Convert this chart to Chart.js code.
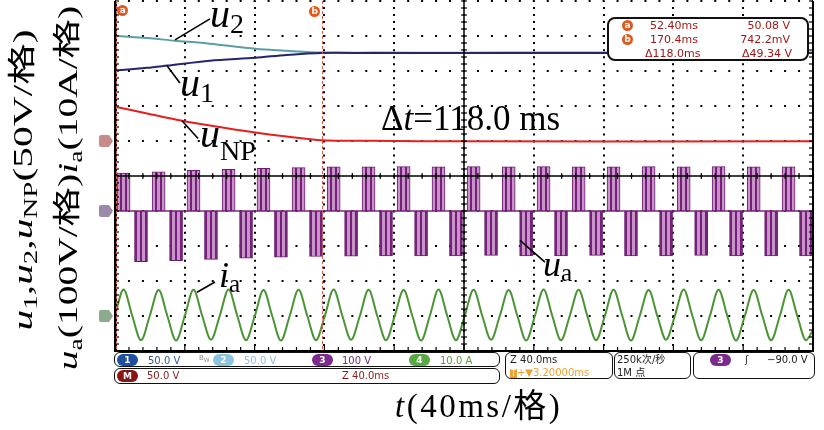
<!DOCTYPE html>
<html><head><meta charset="utf-8">
<script src="https://cdn.jsdelivr.net/npm/chart.js@4.4.0/dist/chart.umd.min.js"></script>
<style>
html,body{margin:0;padding:0;background:#fff;}
#wrap{position:relative;width:824px;height:430px;overflow:hidden;background:#fff;}
canvas{position:absolute;left:0;top:0;}
.lab{position:absolute;font-family:'Liberation Serif','Noto Sans CJK SC',serif;line-height:1;white-space:nowrap;color:#000;}
.lab i{font-style:italic;}
.s{font-size:0.7em;position:relative;top:0.25em;font-style:normal;}
.sb{position:absolute;font-family:'DejaVu Sans','Noto Sans CJK SC',sans-serif;font-size:10px;line-height:1;white-space:nowrap;}
.box{position:absolute;border:1.5px solid #111;border-radius:6px;box-sizing:border-box;background:#fff;}
.ov{position:absolute;border-radius:6px;color:#fff;font:bold 9px 'DejaVu Sans',sans-serif;text-align:center;line-height:12px;height:12px;width:21px;}
.ib{position:absolute;font-family:'DejaVu Sans',sans-serif;font-size:11px;line-height:1;white-space:nowrap;color:#a01818;}
.oc{position:absolute;width:11px;height:11px;border-radius:50%;background:#e2571e;color:#fff;font:bold 9px 'DejaVu Sans',sans-serif;text-align:center;line-height:11px;}
</style></head>
<body><div id="wrap"><canvas id="c" width="824" height="430"></canvas>

<!-- axis titles -->
<div class="lab" style="font-size:28px;left:23px;top:180px;transform:translate(-50%,-50%) rotate(-90deg) scaleX(1.48);"><i>u</i><span class="s">1</span>,<i>u</i><span class="s">2</span>,<i>u</i><span class="s">NP</span>(50V/格)</div>
<div class="lab" style="font-size:28px;left:68px;top:188px;transform:translate(-50%,-50%) rotate(-90deg) scaleX(1.41);"><i>u</i><span class="s">a</span>(100V/格)<i>i</i><span class="s">a</span>(10A/格)</div>
<div class="lab" style="font-size:33px;letter-spacing:2.5px;left:395px;top:390px;"><i>t</i>(40ms/格)</div>

<!-- trace annotations -->
<div class="lab" style="font-size:40px;left:210px;top:-6px;"><i>u</i><span class="s" style="top:0.2em">2</span></div>
<div class="lab" style="font-size:40px;left:180px;top:63px;"><i>u</i><span class="s" style="top:0.2em">1</span></div>
<div class="lab" style="font-size:40px;left:200px;top:114px;"><i>u</i><span class="s" style="top:0.45em">NP</span></div>
<div class="lab" style="font-size:35px;left:381px;top:101px;">Δ<i>t</i>=118.0 ms</div>
<div class="lab" style="font-size:36px;left:219px;top:257px;"><i>i</i><span class="s" style="top:0.2em">a</span></div>
<div class="lab" style="font-size:36px;left:543px;top:246px;"><i>u</i><span class="s" style="top:0.2em">a</span></div>

<!-- cursor readout box -->
<div class="box" style="left:607px;top:17px;width:202px;height:44px;border-width:2px;border-radius:8px;"></div>
<div class="oc" style="left:622px;top:20px;">a</div>
<div class="oc" style="left:622px;top:34px;">b</div>
<div class="ib" style="left:650px;top:20px;">52.40ms</div>
<div class="ib" style="right:34px;top:20px;">50.08 V</div>
<div class="ib" style="left:650px;top:34px;">170.4ms</div>
<div class="ib" style="right:34px;top:34px;">742.2mV</div>
<div class="ib" style="left:645px;top:48px;">Δ118.0ms</div>
<div class="ib" style="right:32px;top:48px;">Δ49.34 V</div>

<!-- cursor labels (positioned from scale) -->
<div class="oc" id="ca" style="top:5px;">a</div>
<div class="oc" id="cb" style="top:6px;">b</div>

<!-- status bar -->
<div class="box" style="left:114px;top:352px;width:386px;height:15px;"></div>
<div class="box" style="left:114px;top:368px;width:386px;height:16px;"></div>
<div class="box" style="left:505px;top:352px;width:108px;height:27px;"></div>
<div class="box" style="left:614px;top:352px;width:77px;height:27px;"></div>
<div class="box" style="left:693px;top:352px;width:122px;height:27px;"></div>

<div class="ov" style="left:117px;top:354px;background:#1f4f9f;">1</div>
<div class="sb" style="left:148px;top:356px;color:#2b55a0;">50.0 V</div>
<div class="sb" style="left:199px;top:355px;color:#8a8a8a;font-size:7px;">B<sub>W</sub></div>
<div class="ov" style="left:213px;top:354px;background:#8cc3e0;">2</div>
<div class="sb" style="left:244px;top:356px;color:#8fc0da;">50.0 V</div>
<div class="ov" style="left:312px;top:354px;background:#7b2b8b;">3</div>
<div class="sb" style="left:342px;top:356px;color:#6b2a7b;">100 V</div>
<div class="ov" style="left:409px;top:354px;background:#58a844;">4</div>
<div class="sb" style="left:440px;top:356px;color:#5b9b3b;">10.0 A</div>

<div class="ov" style="left:117px;top:370px;background:#8b1515;">M</div>
<div class="sb" style="left:147px;top:371px;color:#8b1a1a;">50.0 V</div>
<div class="sb" style="left:342px;top:371px;color:#8b1a1a;">Z 40.0ms</div>

<div class="sb" style="left:510px;top:355px;color:#222;">Z 40.0ms</div>
<div class="sb" style="left:510px;top:368px;color:#f0a030;"><span style="background:#f0a030;color:#fff;font-size:8px;padding:0 1px;">T</span>+▼3.20000ms</div>
<div class="sb" style="left:617px;top:355px;color:#222;">250k次/秒</div>
<div class="sb" style="left:617px;top:368px;color:#222;">1M 点</div>
<div class="ov" style="left:710px;top:354px;background:#7b2b8b;">3</div>
<div class="sb" style="left:745px;top:355px;color:#222;">ʃ</div>
<div class="sb" style="left:767px;top:355px;color:#222;">−90.0 V</div>
</div>

<script>
// ---- screen time window (ms) ----
const X_MIN = 51.6, X_MAX = 451.6;
// cursor positions (ms)
const cursorT = [52.4, 170.4];

// u1, u2 (V, 50V/div), uNP (V, 50V/div)
const u2T = [51.6, 70, 86, 106, 132, 150, 170, 200, 250, 300, 350, 400, 451.6];
const u2V = [150.3, 147, 143.3, 139, 131.8, 128.9, 126.4, 126.3, 126.2, 126.4, 126.2, 126.3, 126.3];
const u1T = [51.6, 70, 81.4, 106, 132, 150, 170, 200, 250, 300, 350, 400, 451.6];
const u1V = [100.6, 104.5, 107.7, 114.8, 118.9, 123, 125.8, 125.6, 125.7, 125.6, 125.7, 125.6, 125.7];
const uNPT = [51.6, 70, 90, 106, 132, 150, 170, 200, 250, 451.6];
const uNPV = [49.0, 39.4, 29.0, 22.0, 12.0, 6.3, 1.0, 0.2, -0.5, -0.5];

// ua pulse groups (V, 100V/div): centre time of each group and its level
const uaPosT = [56.5, 76.6, 96.6, 116.7, 136.7, 156.8, 176.9, 196.9, 217.0, 237.0, 257.1, 277.2, 297.2, 317.3, 337.3, 357.4, 377.5, 397.5, 417.6, 437.6];
const uaPosV = [108, 112, 116, 119, 122, 124, 126, 126, 127, 126, 127, 126, 127, 126, 126, 127, 126, 127, 126, 126];
const uaNegT = [66.5, 86.6, 106.6, 126.7, 146.7, 166.8, 186.9, 206.9, 227.0, 247.0, 267.1, 287.2, 307.2, 327.3, 347.3, 367.4, 387.5, 407.5, 427.6, 447.6];
const uaNegV = [-145, -142, -138, -135, -132, -130, -129, -128, -128, -128, -127, -128, -128, -127, -128, -128, -127, -128, -128, -128];
const uaZeroT = [51.6, 451.6];
const uaZeroV = [0, 0];

// ia (A, 10A/div)
const iaT = [51.6, 56.5, 61.5, 66.5, 71.5, 76.6, 81.6, 86.6, 91.6, 96.6, 101.6, 106.6, 111.6, 116.7, 121.7, 126.7, 131.7, 136.7, 141.7, 146.7, 151.7, 156.8, 161.8, 166.8, 171.8, 176.9, 181.9, 186.9, 191.9, 196.9, 201.9, 206.9, 211.9, 217.0, 222.0, 227.0, 232.0, 237.0, 242.0, 247.0, 252.0, 257.1, 262.1, 267.1, 272.1, 277.2, 282.2, 287.2, 292.2, 297.2, 302.2, 307.2, 312.2, 317.3, 322.3, 327.3, 332.3, 337.3, 342.3, 347.3, 352.3, 357.4, 362.4, 367.4, 372.4, 377.5, 382.5, 387.5, 392.5, 397.5, 402.5, 407.5, 412.5, 417.6, 422.6, 427.6, 432.6, 437.6, 442.6, 447.6, 451.6];
const iaV = [0.1, 7.6, 0, -6.9, 0, 7.4, 0, -7.0, 0, 7.5, 0, -6.8, 0, 7.6, 0, -6.9, 0, 7.4, 0, -7.0, 0, 7.5, 0, -6.9, 0, 7.6, 0, -6.8, 0, 7.5, 0, -6.9, 0, 7.4, 0, -7.0, 0, 7.6, 0, -6.9, 0, 7.5, 0, -6.8, 0, 7.4, 0, -7.0, 0, 7.6, 0, -6.9, 0, 7.5, 0, -6.9, 0, 7.5, 0, -7.0, 0, 7.4, 0, -6.8, 0, 7.6, 0, -6.9, 0, 7.5, 0, -7.0, 0, 7.4, 0, -6.9, 0, 7.5, 0, -6.9, -4.0];

// annotation leader lines: [time ms, graticule division]
const leaders = [
  [[86.0, 8.89], [106.0, 9.49]],
  [[81.4, 8.15], [88.8, 7.66]],
  [[90.0, 6.58], [99.2, 6.07]],
  [[98.6, 1.68], [108.9, 1.97]],
  [[283.7, 3.16], [298.0, 2.54]]
];

const pts = (T, V) => T.map((t, i) => ({x: t, y: V[i]}));
const cv = document.getElementById('c');
const cctx = cv.getContext('2d');

function stripes() {
  const p = document.createElement('canvas');
  p.width = 5; p.height = 1;
  const g = p.getContext('2d');
  g.fillStyle = '#c894c8'; g.fillRect(0, 0, 5, 1);
  g.fillStyle = '#74207a'; g.fillRect(0, 0, 2, 1);
  return cctx.createPattern(p, 'repeat');
}

const uaBars = pts(uaPosT, uaPosV).concat(pts(uaNegT, uaNegV))
  .sort((a, b) => a.x - b.x).map(p => ({x: p.x, y: [0, p.y]}));

const scopePlugin = {
  id: 'scope',
  afterDatasetsDraw(chart) {
    const {ctx, chartArea: a, scales} = chart;
    const xs = scales.x, yg = scales.yg;
    const L = (x1, y1, x2, y2) => { ctx.beginPath(); ctx.moveTo(x1, y1); ctx.lineTo(x2, y2); ctx.stroke(); };
    ctx.save();
    ctx.strokeStyle = '#000';
    const cx = xs.getPixelForValue((X_MIN + X_MAX) / 2), cy = yg.getPixelForValue(5);
    ctx.lineWidth = 1.5;
    L(cx, a.top, cx, a.bottom); L(a.left, cy, a.right, cy);
    ctx.lineWidth = 1.2;
    for (let k = 0; k <= 50; k++) {
      const px = xs.getPixelForValue(X_MIN + k * 8);
      L(px, cy - 3, px, cy + 3);
      L(px, a.bottom, px, a.bottom - (k % 5 === 0 ? 7 : 4));
    }
    for (let k = 0; k <= 50; k++) {
      const py = yg.getPixelForValue(k * 0.2);
      L(cx - 3, py, cx + 3, py);
      L(a.left, py, a.left + 4, py);
      L(a.right, py, a.right - 4, py);
    }
    ctx.lineWidth = 3; L(a.left + 0.5, a.top, a.left + 0.5, a.bottom + 1);
    ctx.lineWidth = 2; L(a.left, a.bottom, a.right + 1, a.bottom); L(a.right, a.top, a.right, a.bottom);
    // cursors
    ctx.strokeStyle = '#de5a4e'; ctx.lineWidth = 1; ctx.setLineDash([3, 2]);
    cursorT.forEach(t => { const px = Math.round(xs.getPixelForValue(t)) + 0.5; L(px, a.top, px, a.bottom); });
    ctx.setLineDash([]);
    // leader lines
    ctx.strokeStyle = '#000'; ctx.lineWidth = 1.6;
    leaders.forEach(([p, q]) => L(xs.getPixelForValue(p[0]), yg.getPixelForValue(p[1]), xs.getPixelForValue(q[0]), yg.getPixelForValue(q[1])));
    // channel ground markers
    [['v50', '#c98a8a'], ['v100', '#9c88a8'], ['a10', '#8caa8c']].forEach(([id, col]) => {
      const py = scales[id].getPixelForValue(0);
      const x0 = a.left - 16, x1 = a.left - 2;
      ctx.fillStyle = col;
      ctx.beginPath();
      ctx.moveTo(x0 + 2, py - 6); ctx.lineTo(x1 - 4, py - 6); ctx.lineTo(x1, py); ctx.lineTo(x1 - 4, py + 6);
      ctx.lineTo(x0 + 2, py + 6); ctx.quadraticCurveTo(x0, py + 6, x0, py + 4); ctx.lineTo(x0, py - 4);
      ctx.quadraticCurveTo(x0, py - 6, x0 + 2, py - 6); ctx.closePath(); ctx.fill();
    });
    ctx.restore();
  }
};

const chart = new Chart(cctx, {
  type: 'line',
  data: {
    datasets: [
      {type: 'line', label: 'ua0', data: pts(uaZeroT, uaZeroV), yAxisID: 'v100', borderColor: '#7a2a80', borderWidth: 1.5, pointRadius: 0, order: 6},
      {type: 'bar', label: 'ua', data: uaBars, yAxisID: 'v100', backgroundColor: stripes(), borderColor: '#6a1a70', borderWidth: 1, borderSkipped: false, barThickness: 13, order: 5},
      {type: 'line', label: 'ia', data: pts(iaT, iaV), yAxisID: 'a10', borderColor: '#4a9434', borderWidth: 2, pointRadius: 0, cubicInterpolationMode: 'monotone', order: 4},
      {type: 'line', label: 'uNP', data: pts(uNPT, uNPV), yAxisID: 'v50', borderColor: '#e3201f', borderWidth: 2, pointRadius: 0, tension: 0.3, order: 3},
      {type: 'line', label: 'u2', data: pts(u2T, u2V), yAxisID: 'v50', borderColor: '#5c9ea3', borderWidth: 2, pointRadius: 0, tension: 0.3, order: 2},
      {type: 'line', label: 'u1', data: pts(u1T, u1V), yAxisID: 'v50', borderColor: '#25256b', borderWidth: 2, pointRadius: 0, tension: 0.3, order: 1}
    ]
  },
  options: {
    responsive: false, animation: false, events: [],
    layout: {padding: {left: 115, right: 11, top: 1, bottom: 79}},
    plugins: {legend: {display: false}, tooltip: {enabled: false}},
    scales: {
      x: {type: 'linear', position: 'bottom', min: X_MIN, max: X_MAX, offset: false,
          afterBuildTicks: s => { const t = []; for (let k = 0; k <= 10; k++) t.push({value: X_MIN + k * 40}); s.ticks = t; },
          ticks: {display: false}, grid: {color: '#000', lineWidth: 2, drawTicks: false, offset: false},
          border: {display: false, dash: [2, 5.02], dashOffset: 1}},
      yg: {type: 'linear', position: 'left', min: 0, max: 10, ticks: {display: false, stepSize: 1},
          grid: {color: '#000', lineWidth: 2, drawTicks: false},
          border: {display: false, dash: [2, 11.96], dashOffset: 1}},
      v50: {display: false, min: -300, max: 200},
      v100: {display: false, min: -400, max: 600},
      a10: {display: false, min: -10, max: 90}
    }
  },
  plugins: [scopePlugin]
});

const xa = chart.scales.x;
document.getElementById('ca').style.left = (xa.getPixelForValue(cursorT[0]) + 1) + 'px';
document.getElementById('cb').style.left = (xa.getPixelForValue(cursorT[1]) - 13) + 'px';
</script>
</body></html>
